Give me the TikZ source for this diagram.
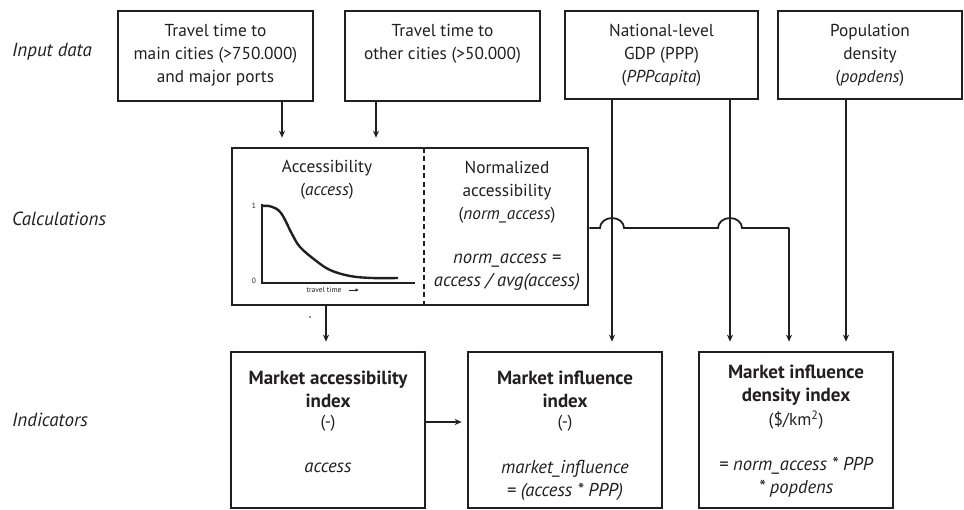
\documentclass[tikz,border=0pt]{standalone}
\usepackage{fontspec}
\setmainfont{PT Sans}
\usetikzlibrary{arrows.meta}
\definecolor{ink}{HTML}{231F20}
\begin{document}
\begin{tikzpicture}[x=1pt,y=-1pt,
  box/.style={draw=ink,line width=2.6pt,inner sep=0pt,fill=none},
  txt/.style={align=center,font=\fontsize{17.3}{23}\selectfont,text=ink,inner sep=0pt},
  itx/.style={txt,font=\fontsize{18.6}{23}\selectfont\itshape},
  btx/.style={txt,font=\fontsize{19}{23}\selectfont\bfseries},
  side/.style={anchor=west,font=\fontsize{19}{20}\selectfont\itshape,text=ink,inner sep=0pt},
  conn/.style={draw=ink,line width=1.8pt},
  arr/.style={conn,-{Stealth[length=7pt,width=6pt]}},
]
\useasboundingbox (0,0) rectangle (964,510);
% boxes
\node[box,minimum width=195pt,minimum height=90pt] (top1) at (215.5,56) {};
\node[box,minimum width=195pt,minimum height=90pt] (top2) at (442.5,56) {};
\node[box,minimum width=193pt,minimum height=88pt] (top3) at (661.5,55) {};
\node[box,minimum width=184pt,minimum height=88pt] (top4) at (870,55) {};
\node[box,minimum width=356pt,minimum height=157pt] (calc) at (410,226.5) {};
\node[box,minimum width=194pt,minimum height=156pt] (bot1) at (328,430) {};
\node[box,minimum width=194pt,minimum height=156pt] (bot2) at (565,430) {};
\node[box,minimum width=194pt,minimum height=156pt] (bot3) at (796,430) {};
% side labels
\node[side] (lin) at (12,52) {Input data};
\node[side] (lca) at (12,219) {Calculations};
\node[side] (lid) at (12,420) {Indicators};
% top texts
\node[txt] (t1) at (215.5,55) {Travel time to\\main cities (>750.000)\\and major ports};
\node[txt] (t2) at (442.5,44) {Travel time to\\other cities (>50.000)};
\node[txt] (t3) at (661.5,55) {National-level\\GDP (PPP)\\(\textit{PPPcapita})};
\node[txt] (t4) at (870,55) {Population\\density\\(\textit{popdens})};
% calc texts
\node[txt] (c1) at (327,180) {Accessibility\\(\textit{access})};
\node[txt] (c2) at (507,192) {Normalized\\accessibility\\(\textit{norm\_access})};
\node[itx] (c3) at (507,272) {norm\_access =\\access / avg(access)};
\draw[ink,line width=2.2pt,dash pattern=on 5pt off 3.5pt] (424,148) -- (424,305);
% graph
\draw[ink,line width=2pt] (262,204) -- (262,283) -- (415,283);
\draw[ink,line width=2.4pt] plot[smooth,tension=0.6] coordinates {(262,206) (271,206.5) (281,213) (292,234) (300,247) (315,260) (330,270) (350,276) (372,278) (398,278)};
\node[font=\fontsize{7.5}{8}\selectfont,text=ink,inner sep=0pt] (g1) at (254,206) {1};
\node[font=\fontsize{7.5}{8}\selectfont,text=ink,inner sep=0pt] (g0) at (254,281) {0};
\node[font=\fontsize{7.5}{8}\selectfont,text=ink,inner sep=0pt] (tt) at (324,290) {travel time};
\draw[ink,line width=0.8pt,-{Triangle[length=3pt,width=3pt]}] ([xshift=7pt]tt.east) -- ++(10pt,0);
\fill[ink] (310,317) circle (0.8pt);
% bottom texts
\node[btx] (b1a) at (328,389) {Market accessibility\\index};
\node[txt] (b1b) at (328,423) {(-)};
\node[itx] (b1c) at (328,468) {access};
\node[btx] (b2a) at (565,389) {Market influence\\index};
\node[txt] (b2b) at (565,423) {(-)};
\node[itx] (b2c) at (565,480) {market\_influence\\= (access * PPP)};
\node[btx] (b3a) at (796,385) {Market influence\\density index};
\node[txt] (b3b) at (796,420) {(\$/km\textsuperscript{2})};
\node[itx] (b3c) at (796,477) {= norm\_access * PPP\\* popdens};
% helper coordinates
\coordinate (x1) at (282,0);
\coordinate (x2) at (376,0);
\coordinate (x3) at (326,0);
\coordinate (x4) at (612,0);
\coordinate (x5) at (730,0);
\coordinate (x6) at (846,0);
\coordinate (x7) at (789,0);
\coordinate (hy) at (0,228);
\coordinate (ay) at (0,422);
% connectors
\draw[arr,shorten >=9pt] (top1.south -| x1) -- (calc.north -| x1);
\draw[arr,shorten >=9pt] (top2.south -| x2) -- (calc.north -| x2);
\draw[arr,shorten >=9pt] (calc.south -| x3) -- (bot1.north -| x3);
\draw[arr,shorten >=9pt] (top3.south -| x4) -- (bot2.north -| x4);
\draw[arr,shorten >=9pt] (top3.south -| x5) -- (bot3.north -| x5);
\draw[arr,shorten >=9pt] (top4.south -| x6) -- (bot3.north -| x6);
\draw[arr,shorten >=5pt] (bot1.east |- ay) -- (bot2.west |- ay);
\coordinate (hs) at (calc.east |- hy);
\coordinate (hc) at (x7 |- hy);
\draw[conn,line join=miter] (hs) -- (600,228) arc[start angle=180,end angle=0,x radius=12pt,y radius=10pt] -- (718,228) arc[start angle=180,end angle=0,x radius=12pt,y radius=10pt] -- (hc);
\draw[arr,shorten >=9pt] (hc) -- (bot3.north -| x7);
\end{tikzpicture}
\end{document}
